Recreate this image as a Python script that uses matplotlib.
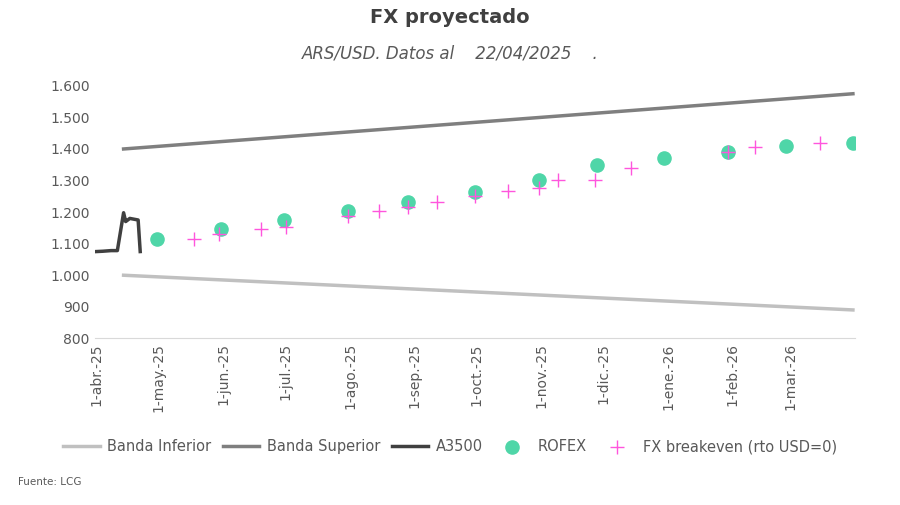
import matplotlib
matplotlib.use("Agg")
import matplotlib.pyplot as plt
import matplotlib.ticker as mt
import pandas as pd

band_dates = ["2025-04-14", "2026-03-31"]
band_inf = [1000, 890]
band_sup = [1400, 1575]

a3500_dates = ["2025-04-01","2025-04-04","2025-04-08","2025-04-11","2025-04-14","2025-04-15","2025-04-16","2025-04-17","2025-04-21","2025-04-22"]
a3500_vals = [1075,1076,1078,1078,1198,1170,1175,1180,1175,1075]

rofex_dates = ["2025-04-30","2025-05-31","2025-06-30","2025-07-31","2025-08-29","2025-09-30","2025-10-31","2025-11-28","2025-12-30","2026-01-30","2026-02-27","2026-03-31"]
rofex_vals = [1114,1145,1176,1205,1233,1264,1302,1349,1371,1390,1409,1418]

be_dates = ["2025-05-18","2025-05-30","2025-06-19","2025-07-01","2025-07-31","2025-08-15","2025-08-29","2025-09-12","2025-09-30","2025-10-16","2025-10-31","2025-11-09","2025-11-27","2025-12-14","2026-01-30","2026-02-12","2026-03-15"]
be_vals = [1114,1130,1148,1152,1189,1202,1217,1233,1252,1267,1277,1302,1302,1340,1390,1406,1418]

tick_dates = ["2025-04-01","2025-05-01","2025-06-01","2025-07-01","2025-08-01","2025-09-01","2025-10-01","2025-11-01","2025-12-01","2026-01-01","2026-02-01","2026-03-01"]
tick_labels = ["1-abr.-25","1-may.-25","1-jun.-25","1-jul.-25","1-ago.-25","1-sep.-25","1-oct.-25","1-nov.-25","1-dic.-25","1-ene.-26","1-feb.-26","1-mar.-26"]

D = pd.to_datetime
fig = plt.figure(figsize=(9, 5.05), dpi=100)
ax = fig.add_axes([0.105, 0.33, 0.845, 0.50])
ax.plot(D(band_dates), band_inf, color="#c0c0c0", lw=2.5, label="Banda Inferior")
ax.plot(D(band_dates), band_sup, color="#7f7f7f", lw=2.5, label="Banda Superior")
ax.plot(D(a3500_dates), a3500_vals, color="#404040", lw=2.5, label="A3500")
ax.scatter(D(rofex_dates), rofex_vals, s=90, color="#4fd6a8", label="ROFEX", zorder=3)
ax.scatter(D(be_dates), be_vals, s=90, marker="+", color="#ff55dd", linewidths=1.0, label="FX breakeven (rto USD=0)", zorder=4)

ax.set_ylim(800, 1600)
ax.set_xlim(D("2025-03-31"), D("2026-04-01"))
ax.yaxis.set_major_locator(mt.MultipleLocator(100))
ax.yaxis.set_major_formatter(mt.FuncFormatter(lambda v, p: f"{int(v):,}".replace(",", ".")))
ax.set_xticks(D(tick_dates))
ax.set_xticklabels(tick_labels, rotation=90)
for s in ax.spines.values():
    s.set_visible(False)
ax.spines["bottom"].set_visible(True)
ax.spines["bottom"].set_color("#d9d9d9")
ax.tick_params(colors="#595959", labelsize=10, length=0)

fig.text(0.5, 0.955, "FX proyectado", ha="center", fontsize=14, color="#404040", weight="semibold")
fig.text(0.5, 0.885, "ARS/USD. Datos al    22/04/2025    .", ha="center", fontsize=12, style="italic", color="#595959")
fig.legend(loc="lower center", bbox_to_anchor=(0.5, 0.075), ncol=5, frameon=False, fontsize=10.5,
           labelcolor="#595959", handlelength=2.5, columnspacing=0.8, handletextpad=0.5)
fig.text(0.02, 0.04, "Fuente: LCG", fontsize=7.5, color="#595959")
fig.savefig("out.png", dpi=100)
